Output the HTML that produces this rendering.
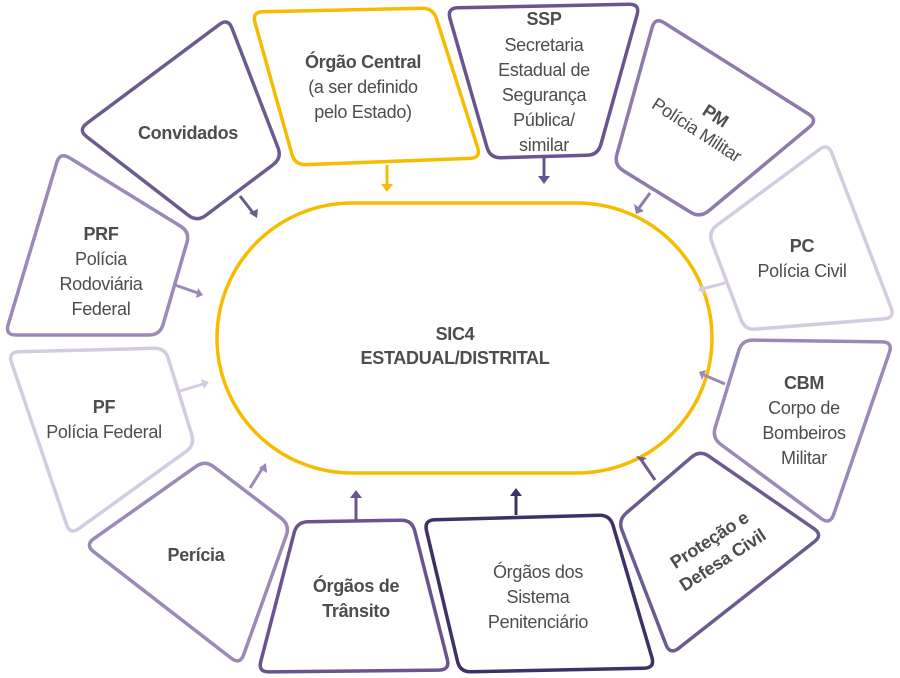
<!DOCTYPE html>
<html><head><meta charset="utf-8"><style>
html,body{margin:0;padding:0;background:#fff;}
svg{display:block}
text{font-family:"Liberation Sans",sans-serif;font-size:18px;fill:#4d4d4d;text-anchor:middle;letter-spacing:-0.3px}
.b{font-weight:bold}
</style></head><body>
<svg id="s" width="900" height="678" viewBox="0 0 900 678" xmlns="http://www.w3.org/2000/svg">
<g id="shapes" fill="none" stroke-width="3.5" stroke-linejoin="round" stroke-linecap="round">
<rect x="217" y="203" width="495" height="270" rx="135" ry="135" stroke="#f5bc00"/>
<polygon points="78,130 228,18 282,158 197,222" stroke="#6b5b8e"/>
<polygon points="252,12 433,8 481,158 295,165" stroke="#f5bc00"/>
<polygon points="447,8 640,4 598,155 490,158" stroke="#6b5390"/>
<polygon points="655,17 818,120 700,218 614,165" stroke="#8e7aab"/>
<polygon points="708,232 828,143 895,318 745,330" stroke="#d4cbe0"/>
<polygon points="742,340 893,342 830,525 712,438" stroke="#9b89b8"/>
<polygon points="700,450 823,535 670,655 618,520" stroke="#6b5b8e"/>
<polygon points="424,520 610,515 655,668 460,672" stroke="#3f3168"/>
<polygon points="297,522 412,520 450,670 258,672" stroke="#6b5390"/>
<polygon points="205,460 290,525 240,665 85,545" stroke="#9b89b8"/>
<polygon points="8,352 165,348 195,445 70,535" stroke="#d4cbe0"/>
<polygon points="60,152 190,232 160,335 5,335" stroke="#9b89b8"/>
</g>
<g stroke-width="3" fill="none">
<line x1="387" y1="165" x2="387" y2="186" stroke="#f5bc00"/>
<line x1="544" y1="158" x2="544" y2="178" stroke="#6b5390"/>
<line x1="650" y1="193" x2="639" y2="208" stroke="#8e7aab"/>
<line x1="725" y1="283" x2="702" y2="289" stroke="#d4cbe0"/>
<line x1="725" y1="384" x2="704" y2="375" stroke="#9b89b8"/>
<line x1="655" y1="480" x2="642" y2="461" stroke="#6b5b8e"/>
<line x1="516" y1="515" x2="516" y2="494" stroke="#3f3168"/>
<line x1="356" y1="520" x2="356" y2="496" stroke="#6b5390"/>
<line x1="250" y1="488" x2="262" y2="469" stroke="#9b89b8"/>
<line x1="180" y1="391" x2="203" y2="384" stroke="#d4cbe0"/>
<line x1="175" y1="285" x2="198" y2="293" stroke="#9b89b8"/>
<line x1="240" y1="196" x2="254" y2="214" stroke="#6b5b8e"/>
</g>
<g>
<polygon points="381,184 393,184 387,192" fill="#f5bc00"/>
<polygon points="538,176 550,176 544,184" fill="#6b5390"/>
<polygon points="634,204 644,211 636,214" fill="#8e7aab"/>
<polygon points="703,284 705,294 698,290" fill="#d4cbe0"/>
<polygon points="706,370 702,380 699,372" fill="#9b89b8"/>
<polygon points="636,456 647,458 641,462" fill="#6b5b8e"/>
<polygon points="510,496 522,496 516,488" fill="#3f3168"/>
<polygon points="350,498 362,498 356,490" fill="#6b5390"/>
<polygon points="259,468 267,473 266,463" fill="#9b89b8"/>
<polygon points="201,379 204,389 209,382" fill="#d4cbe0"/>
<polygon points="198,288 196,298 203,295" fill="#9b89b8"/>
<polygon points="249,213 258,209 257,218" fill="#6b5b8e"/>
</g>
<text class="b" x="455" y="340">SIC4</text>
<text class="b" x="455" y="364">ESTADUAL/DISTRITAL</text>
<text class="b" x="188" y="139">Convidados</text>
<text class="b" x="363" y="68">Órgão Central</text>
<text x="363" y="93">(a ser definido</text>
<text x="363" y="118">pelo Estado)</text>
<text class="b" x="544" y="25">SSP</text>
<text x="544" y="51">Secretaria</text>
<text x="544" y="76">Estadual de</text>
<text x="544" y="101">Segurança</text>
<text x="544" y="126">Pública/</text>
<text x="544" y="151">similar</text>
<g transform="translate(700,125) rotate(33)">
<text class="b" x="8" y="-10">PM</text>
<text x="0" y="12">Polícia Militar</text>
</g>
<text class="b" x="802" y="252">PC</text>
<text x="802" y="277">Polícia Civil</text>
<text class="b" x="804" y="389">CBM</text>
<text x="804" y="414">Corpo de</text>
<text x="804" y="439">Bombeiros</text>
<text x="804" y="464">Militar</text>
<g transform="translate(716,550) rotate(-33)">
<text class="b" x="0" y="-6">Proteção e</text>
<text class="b" x="0" y="18">Defesa Civil</text>
</g>
<text x="538" y="578">Órgãos dos</text>
<text x="538" y="603">Sistema</text>
<text x="538" y="628">Penitenciário</text>
<text class="b" x="356" y="592">Órgãos de</text>
<text class="b" x="356" y="617">Trânsito</text>
<text class="b" x="196" y="561">Perícia</text>
<text class="b" x="104" y="413">PF</text>
<text x="104" y="438">Polícia Federal</text>
<text class="b" x="101" y="240">PRF</text>
<text x="101" y="265">Polícia</text>
<text x="101" y="290">Rodoviária</text>
<text x="101" y="315">Federal</text>
</svg>
<script>
(function(){
var NS="http://www.w3.org/2000/svg",R=11;
var polys=document.querySelectorAll('#shapes polygon');
for(var i=0;i<polys.length;i++){
 var p=polys[i];
 var pts=p.getAttribute('points').trim().split(/\s+/).map(function(s){var a=s.split(',');return [+a[0],+a[1]];});
 var n=pts.length,d='';
 for(var j=0;j<n;j++){
  var c=pts[j],a=pts[(j-1+n)%n],b=pts[(j+1)%n];
  var la=Math.hypot(a[0]-c[0],a[1]-c[1]),lb=Math.hypot(b[0]-c[0],b[1]-c[1]);
  var r=Math.min(R,la/2,lb/2);
  var p1=[c[0]+(a[0]-c[0])*r/la,c[1]+(a[1]-c[1])*r/la];
  var p2=[c[0]+(b[0]-c[0])*r/lb,c[1]+(b[1]-c[1])*r/lb];
  d+=(j==0?'M':'L')+p1[0].toFixed(1)+','+p1[1].toFixed(1)+'Q'+c[0]+','+c[1]+' '+p2[0].toFixed(1)+','+p2[1].toFixed(1);
 }
 d+='Z';
 var path=document.createElementNS(NS,'path');
 path.setAttribute('d',d);
 path.setAttribute('stroke',p.getAttribute('stroke'));
 p.parentNode.replaceChild(path,p);
}
})();
</script>
</body></html>
